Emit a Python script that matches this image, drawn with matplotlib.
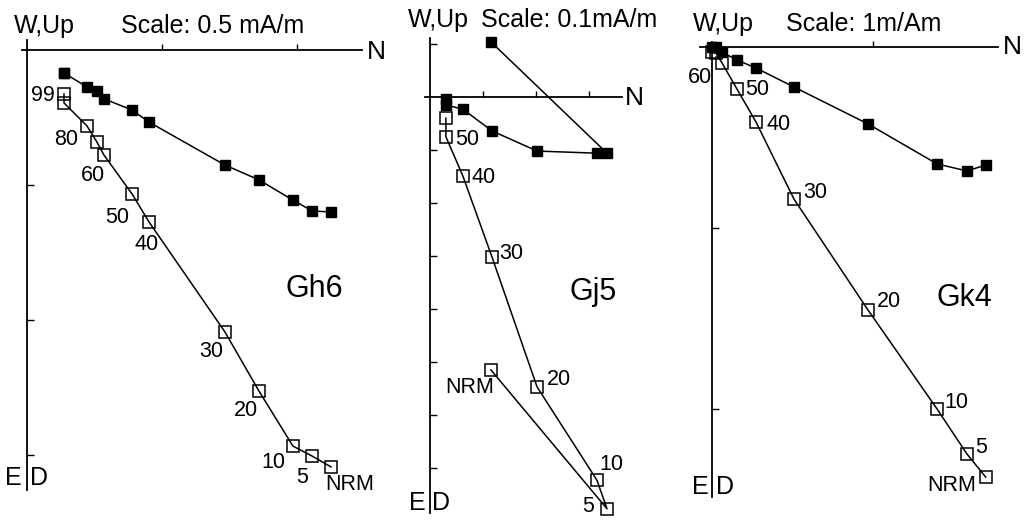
import numpy as np
import matplotlib.pyplot as plt

plt.rcParams['font.family'] = ['Liberation Sans', 'DejaVu Sans']

# demagnetisation steps, N / E / Down components (units of the scale bar)
gh6_steps = ['NRM', '5', '10', '20', '30', '40', '50', '60', '70', '80', '90', '99']
gh6_lab = ['NRM', '5', '10', '20', '30', '40', '50', '60', '', '80', '', '99']
gh6_n = [1.126, 1.056, 0.985, 0.859, 0.733, 0.452, 0.389, 0.285, 0.259, 0.222, 0.137, 0.137]
gh6_e = [0.600, 0.596, 0.556, 0.481, 0.426, 0.267, 0.222, 0.181, 0.152, 0.137, 0.085, 0.085]
gh6_d = [1.544, 1.504, 1.467, 1.263, 1.044, 0.637, 0.533, 0.389, 0.341, 0.281, 0.196, 0.163]

gj5_steps = ['NRM', '5', '10', '20', '30', '40', '50', '60']
gj5_lab = ['NRM', '5', '10', '20', '30', '40', '50', '']
gj5_n = [0.115, 0.334, 0.315, 0.202, 0.117, 0.062, 0.030, 0.030]
gj5_e = [-0.104, 0.106, 0.106, 0.102, 0.064, 0.023, 0.015, 0.004]
gj5_d = [0.515, 0.777, 0.723, 0.547, 0.302, 0.149, 0.075, 0.040]

gk4_steps = ['NRM', '5', '10', '20', '30', '40', '50', '60', '70', '80']
gk4_lab = ['NRM', '5', '10', '20', '30', '40', '50', '60', '', '']
gk4_n = [1.70, 1.584, 1.398, 0.969, 0.509, 0.273, 0.155, 0.062, 0.025, 0.0]
gk4_e = [0.652, 0.685, 0.646, 0.425, 0.221, 0.116, 0.072, 0.028, 0.0, 0.0]
gk4_d = [2.376, 2.249, 2.0, 1.453, 0.840, 0.414, 0.232, 0.088, 0.035, 0.03]

# label offsets (pixels) relative to the open squares
gh6_off = [(19, -18), (-10, -21), (-20, -16), (-13, -19), (-14, -20), (-2, -23),
           (-15, -24), (-11, -20), (0, 0), (-21, -14), (0, 0), (-21, -1)]
gj5_off = [(-21, -18), (-19, 2), (14, 16), (22, 7), (19, 4), (21, -2), (21, -3), (0, 0)]
gk4_off = [(-34, -8), (14, 7), (19, 6), (21, 8), (21, 7), (23, -3), (20, -1),
           (-22, -15), (0, 0), (0, 0)]

W, H = 1026, 520
fig = plt.figure(figsize=(W / 100, H / 100), dpi=100)


def ftext(x, y, s, size, **kw):
    fig.text(x / W, 1 - y / H, s, fontsize=size, ha='center', va='center', **kw)


def panel(origin, scale, box, tick, xspan, yspan):
    ox, oy = origin
    sx, sy = scale
    l, t, r, b = box
    ax = fig.add_axes([l / W, 1 - b / H, (r - l) / W, (b - t) / H])
    ax.set_xlim((l - ox) / sx, (r - ox) / sx)
    ax.set_ylim((b - oy) / sy, (t - oy) / sy)
    ax.patch.set_visible(False)
    ax.spines['right'].set_visible(False)
    ax.spines['bottom'].set_visible(False)
    ax.spines['left'].set_position(('data', 0))
    ax.spines['top'].set_position(('data', 0))
    ax.spines['left'].set_bounds(*yspan)
    ax.spines['top'].set_bounds(*xspan)
    for s in ['left', 'top']:
        ax.spines[s].set_linewidth(1.3)
    ax.xaxis.set_ticks_position('top')
    ax.yaxis.set_ticks_position('left')
    xt = np.arange(tick, xspan[1], tick)
    yt = np.arange(np.ceil(yspan[0] / tick) * tick, yspan[1], tick)
    yt = yt[np.abs(yt) > tick / 2]
    ax.set_xticks(xt)
    ax.set_yticks(yt)
    ax.tick_params(axis='x', direction='out', length=4, width=1, labeltop=False, labelbottom=False)
    ax.tick_params(axis='y', direction='in', length=5, width=1, labelleft=False, labelright=False)
    return ax


def draw(ax, n, e, d, labs, offs):
    ax.plot(n, e, '-', color='k', lw=1.1, marker='s', ms=7.8, mfc='k', mec='k', clip_on=False)
    ax.plot(n, d, '-', color='k', lw=1.1, marker='s', ms=9.2, mfc='none', mec='k',
            mew=1.1, clip_on=False)
    for lab, x, y, off in zip(labs, n, d, offs):
        if lab:
            ax.annotate(lab, (x, y), xytext=off, textcoords='offset pixels',
                        ha='center', va='center', fontsize=15.5)


# Gh6
ax1 = panel((27, 50), (270, 270), (0, 0, 390, 520), 0.5,
            ((22 - 27) / 270, (362 - 27) / 270), ((40 - 50) / 270, (490 - 50) / 270))
draw(ax1, gh6_n, gh6_e, gh6_d, gh6_lab, gh6_off)
ftext(44, 26, 'W,Up', 18)
ftext(213, 26, 'Scale: 0.5 mA/m', 18)
ftext(376, 52, 'N', 19)
ftext(314, 289, 'Gh6', 22)
ftext(13, 478, 'E', 18)
ftext(39, 478, 'D', 18)

# Gj5
ax2 = panel((430, 97), (530, 530), (390, 0, 680, 520), 0.1,
            ((425 - 430) / 530, (622 - 430) / 530), ((38 - 97) / 530, (513 - 97) / 530))
draw(ax2, gj5_n, gj5_e, gj5_d, gj5_lab, gj5_off)
ftext(438, 20, 'W,Up', 18)
ftext(569, 20, 'Scale: 0.1mA/m', 18)
ftext(634, 98, 'N', 19)
ftext(593, 292, 'Gj5', 22)
ftext(417, 503, 'E', 18)
ftext(441, 503, 'D', 18)

# Gk4
ax3 = panel((712, 47), (161, 181), (680, 0, 1026, 520), 1.0,
            ((700 - 712) / 161, (998 - 712) / 161), ((42 - 47) / 181, (497 - 47) / 181))
draw(ax3, gk4_n, gk4_e, gk4_d, gk4_lab, gk4_off)
ftext(723, 24, 'W,Up', 18)
ftext(864, 24, 'Scale: 1m/Am', 18)
ftext(1012, 47, 'N', 19)
ftext(964, 298, 'Gk4', 22)
ftext(700, 487, 'E', 18)
ftext(725, 487, 'D', 18)

fig.savefig('out.png', dpi=100, facecolor='white')
